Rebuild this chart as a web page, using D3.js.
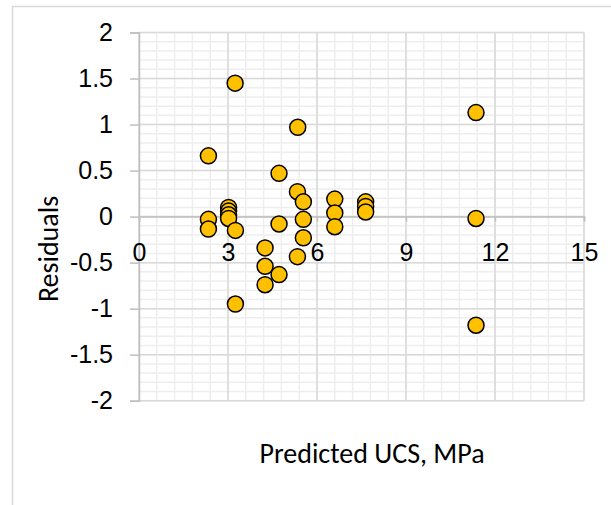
<!DOCTYPE html>
<html>
<head>
<meta charset="utf-8">
<script src="https://cdn.jsdelivr.net/npm/d3@7"></script>
<style>
	body{margin:0;background:#fff;}
	svg{display:block;font-family:Carlito,Calibri,Lato,sans-serif;}
</style>
</head>
<body>
<div id="chart"></div>
<script>

// predicted UCS (MPa) and residuals
const predicted = [2.34,2.34,2.34, 3.02,3.02,3.02,3.02, 3.24,3.25,3.25,
	4.25,4.25,4.25, 4.72,4.72,4.72, 5.35,5.34,5.34, 5.54,5.54,5.54,
	6.6,6.6,6.6, 7.64,7.64,7.64, 11.36,11.36,11.36]
const residuals = [0.66,-0.03,-0.135, 0.1,0.06,0.02,-0.02, 1.45,-0.15,-0.95,
	-0.34,-0.54,-0.74, 0.47,-0.08,-0.63, 0.97,0.27,-0.435, 0.16,-0.03,-0.23,
	0.19,0.04,-0.11, 0.16,0.11,0.05, 1.13,-0.02,-1.18]

const xTicks = [0,3,6,9,12,15]
const yTicks = [-2,-1.5,-1,-0.5,0,0.5,1,1.5,2]
const xTitle = "Predicted UCS, MPa"
const yTitle = "Residuals"

const width = 611, height = 505
const plot = {left:139, right:584, top:32.5, bottom:400.7}

const svg = d3.select("#chart").append("svg")
	.attr("width",width)
	.attr("height",height)

// chart area border (only top/left fall inside the picture)
svg.append("rect")
	.attr("x",12.5).attr("y",6.5)
	.attr("width",700).attr("height",600)
	.style("fill","none").style("stroke","#d9d9d9").style("stroke-width",1.5)

const x = d3.scaleLinear().domain([0,15]).range([plot.left,plot.right])
const y = d3.scaleLinear().domain([-2,2]).range([plot.bottom,plot.top])

// minor grid
const grid = svg.append("g").attr("class","grid")
grid.selectAll(".xminor").data(d3.range(0,15.01,0.6)).enter().append("line")
	.attr("x1",d=>x(d)).attr("x2",d=>x(d))
	.attr("y1",plot.top).attr("y2",plot.bottom)
	.style("stroke","#eeeeee").style("stroke-width",1.5)
grid.selectAll(".yminor").data(d3.range(-2,2.01,0.1)).enter().append("line")
	.attr("y1",d=>y(d)).attr("y2",d=>y(d))
	.attr("x1",plot.left).attr("x2",plot.right)
	.style("stroke","#eeeeee").style("stroke-width",1.5)

// major grid
grid.selectAll(".xmajor").data(xTicks).enter().append("line")
	.attr("x1",d=>x(d)).attr("x2",d=>x(d))
	.attr("y1",plot.top).attr("y2",plot.bottom)
	.style("stroke","#d9d9d9").style("stroke-width",1.5)
grid.selectAll(".ymajor").data(yTicks).enter().append("line")
	.attr("y1",d=>y(d)).attr("y2",d=>y(d))
	.attr("x1",plot.left).attr("x2",plot.right)
	.style("stroke","#d9d9d9").style("stroke-width",1.5)

// y axis
const yAxis = svg.append("g")
	.attr("transform","translate("+plot.left+",0)")
	.call(d3.axisLeft(y).tickValues(yTicks).tickSize(9).tickPadding(17).tickFormat(d=>String(d)))
yAxis.select(".domain").style("stroke","#bfbfbf").style("stroke-width",1.5)
yAxis.selectAll(".tick line").style("stroke","#bfbfbf").style("stroke-width",1.5)
yAxis.selectAll("text").style("font-size","25px").style("fill","#000")

// x axis crosses at y = 0
const xAxis = svg.append("g")
	.attr("transform","translate(0,"+y(0)+")")
	.call(d3.axisBottom(x).tickValues(xTicks).tickSize(5).tickFormat(d=>String(d)))
xAxis.select(".domain").style("stroke","#bfbfbf").style("stroke-width",1.5)
xAxis.selectAll(".tick line").style("stroke","#bfbfbf").style("stroke-width",1.5)
xAxis.selectAll("text").attr("y",44).attr("dy",0).style("font-size","25px").style("fill","#000")

// points
svg.append("g").selectAll("circle").data(predicted).enter().append("circle")
	.attr("cx",d=>x(d))
	.attr("cy",(d,i)=>y(residuals[i]))
	.attr("r",8)
	.style("fill","#ffc000")
	.style("stroke","#000")
	.style("stroke-width",1.5)

// axis titles
svg.append("text")
	.attr("x",372).attr("y",463)
	.attr("text-anchor","middle")
	.style("font-size","28px")
	.text(xTitle)

svg.append("text")
	.attr("transform","translate(58,249) rotate(-90)")
	.attr("text-anchor","middle")
	.style("font-size","28px")
	.text(yTitle)

</script>
</body>
</html>
